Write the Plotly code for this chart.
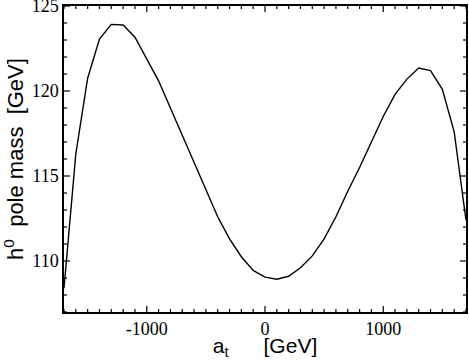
import plotly.graph_objects as go


# ==========================================
# DATA
# ==========================================

a_t = [
    -1700, -1600, -1500, -1400, -1300, -1200, -1100, -1000,
    -900, -800, -700, -600, -500, -400, -300, -200, -100,
    0, 100, 200, 300, 400, 500, 600, 700, 800, 900,
    1000, 1100, 1200, 1300, 1400, 1500, 1600, 1700
]

h0_mass = [
    108.4, 116.3, 120.75, 123.05, 123.92, 123.88, 123.16, 121.92,
    120.6, 119.0, 117.4, 115.8, 114.2, 112.6, 111.3, 110.25, 109.45,
    109.05, 108.93, 109.1, 109.6, 110.3, 111.3, 112.6, 114.1, 115.5, 117.0,
    118.5, 119.8, 120.7, 121.35, 121.2, 120.1, 117.6, 112.4
]

x_ticks = [-1000, 0, 1000]
x_tick_labels = ["-1000", "0", "1000"]

y_ticks = [110, 115, 120, 125]
y_tick_labels = ["110", "115", "120", "125"]

x_range = [-1700, 1700]
y_range = [107, 125.0001]

NB = "\u00a0"
x_title = "a<sub>t</sub>" + NB * 6 + "[GeV]"
y_title = "h<sup>0</sup>" + NB * 2 + "pole mass" + NB * 2 + "[GeV]"

WIDTH, HEIGHT = 469, 360
MARGIN = dict(l=64, r=3, t=6, b=48)


# ==========================================
# FRAME TICKS
# ==========================================

# inward ticks on the four frame edges, as one line trace
def frame_ticks():

    px_x = (WIDTH - MARGIN["l"] - MARGIN["r"]) / (x_range[1] - x_range[0])
    px_y = (HEIGHT - MARGIN["t"] - MARGIN["b"]) / (y_range[1] - y_range[0])

    xs, ys = [], []

    for v in range(-1700, 1701, 100):

        length = (6 if v % 1000 == 0 else 3) / px_y

        xs += [v, v, None, v, v, None]
        ys += [y_range[0], y_range[0] + length, None,
               y_range[1], y_range[1] - length, None]

    for v in range(107, 126):

        length = (6 if v % 5 == 0 else 3) / px_x

        xs += [x_range[0], x_range[0] + length, None,
               x_range[1], x_range[1] - length, None]
        ys += [v, v, None, v, v, None]

    return go.Scatter(
        x=xs,
        y=ys,
        mode="lines",
        line=dict(color="black", width=1.2),
        hoverinfo="skip",
        showlegend=False,
        cliponaxis=False
    )


# ==========================================
# FIGURE
# ==========================================

def create_mass_chart():

    fig = go.Figure()

    fig.add_trace(

        go.Scatter(
            x=a_t,
            y=h0_mass,
            mode="lines",
            line=dict(color="black", width=1.4),
            showlegend=False
        )
    )

    fig.add_trace(frame_ticks())

    axis_style = dict(
        showgrid=False,
        zeroline=False,
        showline=True,
        linecolor="black",
        linewidth=1.5,
        mirror=True,
        ticks="",
        automargin=False,
        ticklabeloverflow="allow",
        tickfont=dict(family="Liberation Serif", size=18, color="black")
    )

    fig.update_layout(

        xaxis=dict(
            range=x_range,
            tickmode="array",
            tickvals=x_ticks,
            ticktext=x_tick_labels,
            title=dict(text=x_title, standoff=0,
                       font=dict(family="Liberation Sans", size=21,
                                 color="black")),
            **axis_style
        ),

        yaxis=dict(
            range=y_range,
            tickmode="array",
            tickvals=y_ticks,
            ticktext=y_tick_labels,
            title=dict(text=y_title, standoff=4,
                       font=dict(family="Liberation Sans", size=22,
                                 color="black")),
            **axis_style
        ),

        width=WIDTH,
        height=HEIGHT,
        margin=MARGIN,
        plot_bgcolor="white",
        paper_bgcolor="white"
    )

    return fig


fig = create_mass_chart()
fig.write_html(
    "out.html",
    config={"displayModeBar": False},
    post_script="document.body.style.margin='0';"
)
